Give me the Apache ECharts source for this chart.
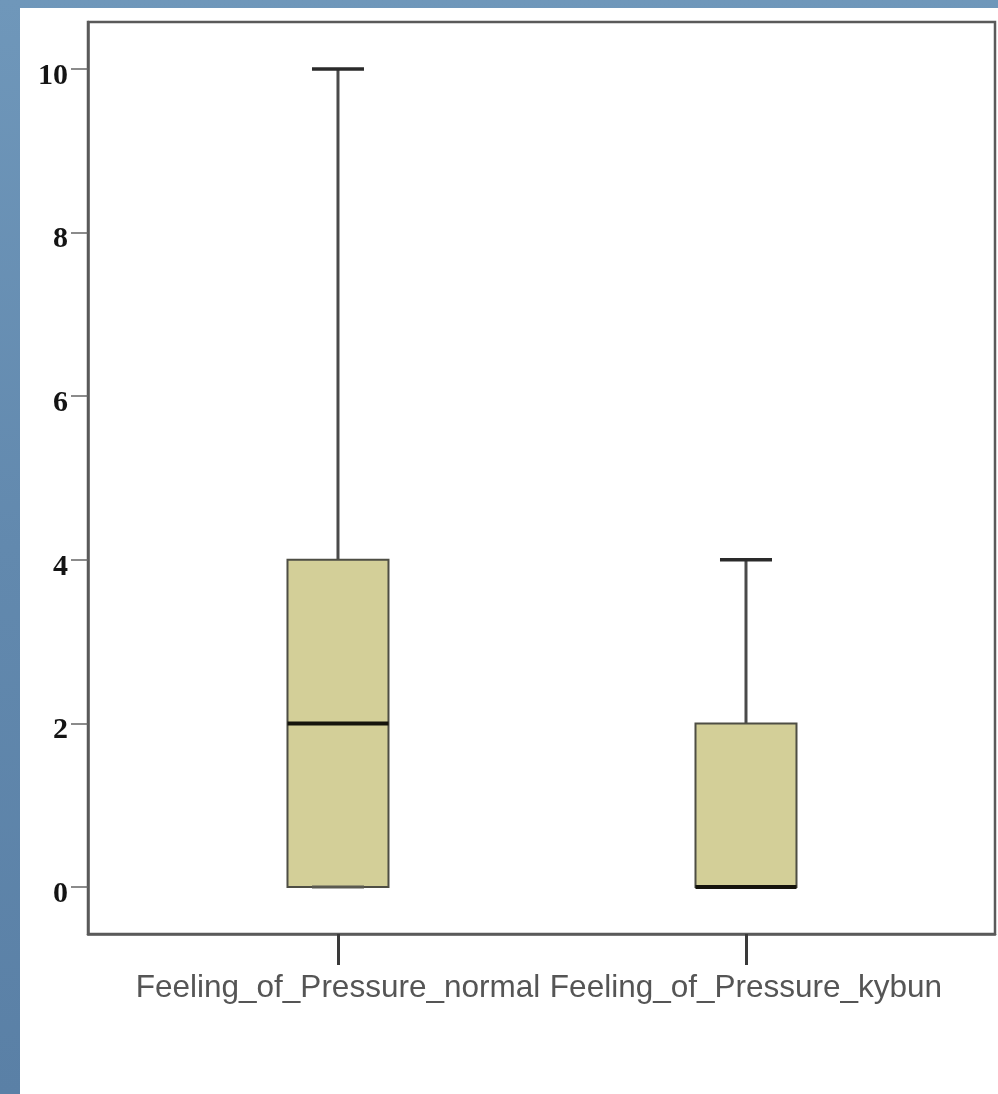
<!DOCTYPE html>
<html>
<head>
<meta charset="utf-8">
<script src="https://cdn.jsdelivr.net/npm/echarts@6/dist/echarts.min.js"></script>
<style>
  html, body { margin: 0; padding: 0; width: 998px; height: 1094px; overflow: hidden; }
  body { background: linear-gradient(180deg, #6f97ba 0%, #6289ae 50%, #5a80a6 100%); position: relative; }
  #chart { position: absolute; left: 20px; top: 8px; width: 978px; height: 1086px; background: #ffffff; }
</style>
</head>
<body>
<div id="chart"></div>
<script>
// Box plot summary per variable
const categories = ['Feeling_of_Pressure_normal', 'Feeling_of_Pressure_kybun'];
const minVals    = [0, 0];
const q1Vals     = [0, 0];
const medianVals = [2, 0];
const q3Vals     = [4, 2];
const maxVals    = [10, 4];
const yTicks     = [0, 2, 4, 6, 8, 10];

const boxData = categories.map((c, i) => [i + 1, minVals[i], q1Vals[i], medianVals[i], q3Vals[i], maxVals[i]]);

const BOX_W = 101;
const CAP_W = 52;

function renderBox(params, api) {
  const x = api.value(0);
  const pMin = api.coord([x, api.value(1)]);
  const pQ1 = api.coord([x, api.value(2)]);
  const pMed = api.coord([x, api.value(3)]);
  const pQ3 = api.coord([x, api.value(4)]);
  const pMax = api.coord([x, api.value(5)]);
  const cx = pMed[0];
  const children = [];
  const whisker = { stroke: '#4a4a4a', lineWidth: 3 };
  // upper whisker
  children.push({ type: 'line', shape: { x1: cx, y1: pQ3[1], x2: cx, y2: pMax[1] }, style: whisker });
  // lower whisker
  if (pMin[1] !== pQ1[1]) {
    children.push({ type: 'line', shape: { x1: cx, y1: pQ1[1], x2: cx, y2: pMin[1] }, style: whisker });
  }
  // box
  children.push({
    type: 'rect',
    shape: { x: cx - BOX_W / 2, y: pQ3[1], width: BOX_W, height: pQ1[1] - pQ3[1] },
    style: { fill: '#d3cf98', stroke: '#4e4e44', lineWidth: 2 }
  });
  // caps
  const cap = { stroke: '#2a2a2a', lineWidth: 3.5 };
  children.push({ type: 'line', shape: { x1: cx - CAP_W / 2, y1: pMax[1], x2: cx + CAP_W / 2, y2: pMax[1] }, style: cap });
  children.push({ type: 'line', shape: { x1: cx - CAP_W / 2, y1: pMin[1], x2: cx + CAP_W / 2, y2: pMin[1] }, style: { stroke: '#5a5a50', lineWidth: 3 } });
  // median
  children.push({
    type: 'line',
    shape: { x1: cx - BOX_W / 2, y1: pMed[1], x2: cx + BOX_W / 2, y2: pMed[1] },
    style: { stroke: '#15140c', lineWidth: 4 }
  });
  return { type: 'group', children };
}

const chart = echarts.init(document.getElementById('chart'), null, { renderer: 'canvas' });
chart.setOption({
  animation: false,
  backgroundColor: '#ffffff',
  grid: {
    left: 68, right: 3, top: 14, bottom: 160,
    show: true, borderColor: '#5a5a5a', borderWidth: 2.5, backgroundColor: 'transparent'
  },
  xAxis: {
    type: 'value',
    min: 0.3873,
    max: 2.6103,
    splitLine: { show: false },
    axisLine: { show: true, onZero: false, lineStyle: { color: '#5a5a5a', width: 2.5 } },
    axisTick: { show: true, customValues: [1, 2], length: 31, lineStyle: { color: '#3a3a3a', width: 3 } },
    axisLabel: {
      show: true,
      customValues: [1, 2],
      formatter: v => categories[Math.round(v) - 1] || '',
      margin: 38,
      fontFamily: 'Liberation Sans, Arial, sans-serif',
      fontSize: 31.5,
      color: '#555555'
    }
  },
  yAxis: {
    type: 'value',
    min: -0.575,
    max: 10.575,
    splitLine: { show: false },
    axisLine: { show: true, onZero: false, lineStyle: { color: '#5a5a5a', width: 2.5 } },
    axisTick: { show: true, customValues: yTicks, length: 17, lineStyle: { color: '#666666', width: 1.5 } },
    axisLabel: {
      show: true,
      customValues: yTicks,
      margin: 20,
      verticalAlign: 'top',
      lineHeight: 14,
      fontFamily: 'Liberation Serif, Times New Roman, serif',
      fontWeight: 'bold',
      fontSize: 30,
      color: '#141414'
    }
  },
  series: [{
    type: 'custom',
    renderItem: renderBox,
    encode: { x: 0, y: [1, 2, 3, 4, 5] },
    data: boxData,
    clip: false
  }]
});
</script>
</body>
</html>
